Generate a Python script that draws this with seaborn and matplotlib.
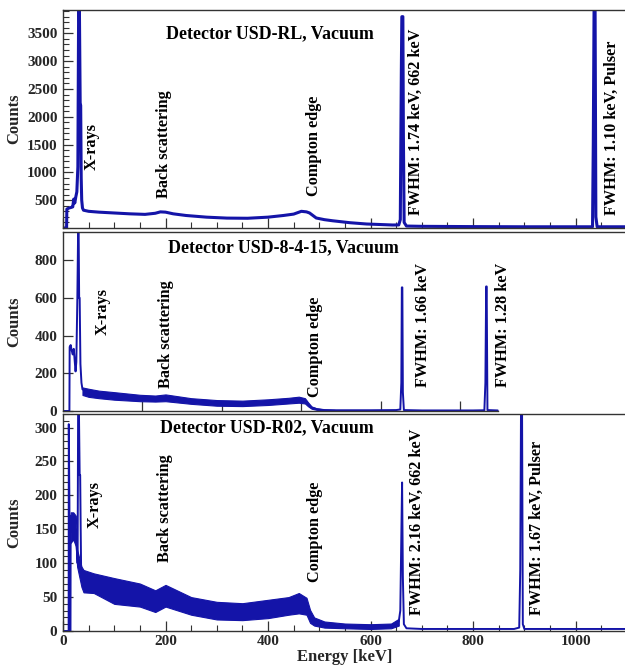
import matplotlib
matplotlib.use('Agg')
import matplotlib.pyplot as plt
from matplotlib.ticker import MultipleLocator, FixedLocator, NullFormatter
import seaborn as sns

# Detector USD-RL (top)
rl_energy = [0, 7, 7.5, 12, 16, 19, 21, 23, 25, 27, 29, 30.5, 32, 33.5, 34.5, 35.5, 36.5, 38, 40, 50,
             70, 100, 130, 160, 180, 190, 200, 215, 240, 280, 320, 360, 400, 430, 450, 465, 475, 481, 494, 510,
             526, 560, 592, 643, 655, 658, 660, 661, 663, 664, 665.5, 670, 700, 800, 900, 1000, 1033, 1034.5, 1036, 1038,
             1039.5, 1042, 1110]
rl_counts = [0, 0, 340, 360, 370, 380, 520, 450, 560, 650, 1100, 3950, 3950, 2250, 2200, 900, 500, 360, 320, 300,
             285, 270, 255, 245, 265, 290, 285, 255, 225, 195, 178, 175, 195, 225, 250, 300, 290, 270, 180, 150,
             130, 95, 72, 54, 55, 150, 2800, 3800, 3800, 1700, 100, 35, 30, 25, 22, 22, 22, 1550, 3950, 3950,
             200, 22, 22]

# Detector USD-8-4-15 (middle)
d8_energy = [0, 12.5, 13, 15, 17, 19, 21, 23, 24.5, 26, 28, 29.5, 30.5, 31.5, 32.5, 34, 36, 38, 50, 100,
             150, 200, 250, 300, 350, 400, 440, 460, 472, 478, 485, 495, 510, 530, 600, 650, 658, 660, 661, 662,
             663, 665, 700, 800, 822, 824, 825.5, 826.5, 828, 848]
d8_counts = [0, 0, 340, 350, 320, 300, 330, 260, 210, 260, 600, 960, 960, 600, 600, 250, 150, 115, 100, 82,
             70, 68, 50, 42, 40, 48, 55, 60, 55, 35, 18, 10, 5, 4, 4, 5, 8, 150, 656, 656,
             100, 5, 3, 3, 4, 150, 661, 661, 5, 3]
d8_band_energy = [38, 50, 70, 100, 150, 180, 200, 250, 300, 350, 400, 440, 460, 472, 478, 485, 495, 510, 530]
d8_band_low = [85, 75, 68, 60, 52, 50, 52, 38, 28, 26, 32, 40, 44, 40, 25, 12, 6, 3, 2]
d8_band_high = [125, 118, 108, 100, 86, 82, 88, 68, 58, 55, 62, 70, 76, 68, 46, 24, 14, 8, 6]

# Detector USD-R02 (bottom)
r02_energy = [0, 11, 11.3, 12.5, 13.5, 14.6, 15, 17, 19, 21, 23, 25, 27, 28.5, 29.5, 31, 32.5, 33.5, 34.5, 35.5,
              38, 40, 60, 100, 150, 180, 200, 250, 300, 350, 400, 440, 460, 475, 482, 490, 510, 550, 600, 640,
              655, 658, 660, 661.5, 663, 665, 670, 700, 800, 880, 890, 892, 893.5, 895.5, 897, 900, 1000, 1110]
r02_counts = [0, 0, 305, 190, 0, 0, 170, 150, 145, 160, 140, 150, 120, 100, 330, 330, 230, 230, 150, 80,
              75, 72, 70, 58, 52, 44, 50, 37, 30, 28, 32, 37, 41, 36, 22, 14, 10, 8, 7, 8,
              14, 30, 140, 219, 80, 10, 4, 3, 3, 3, 5, 90, 330, 330, 10, 3, 3, 3]
r02_band_energy = [15, 20, 25, 27.5, 36, 40, 60, 100, 150, 180, 200, 250, 300, 350, 400, 440, 460, 475, 482, 490,
                   510, 550, 600, 640, 655]
r02_band_low = [130, 135, 125, 95, 65, 57, 56, 40, 36, 28, 36, 24, 17, 16, 19, 24, 26, 24, 12, 8, 5, 4, 3, 4, 8]
r02_band_high = [175, 175, 170, 120, 95, 90, 85, 78, 70, 60, 68, 50, 43, 41, 46, 50, 56, 49, 31, 20, 14, 11, 10, 11, 18]

titles = ['Detector USD-RL, Vacuum', 'Detector USD-8-4-15, Vacuum', 'Detector USD-R02, Vacuum']
rl_notes = ['X-rays', 'Back scattering', 'Compton edge', 'FWHM: 1.74 keV, 662 keV', 'FWHM: 1.10 keV, Pulser']
d8_notes = ['X-rays', 'Back scattering', 'Compton edge', 'FWHM: 1.66 keV', 'FWHM: 1.28 keV']
r02_notes = ['X-rays', 'Back scattering', 'Compton edge', 'FWHM: 2.16 keV, 662 keV', 'FWHM: 1.67 keV, Pulser']

sns.set_theme(style='ticks')
plt.rcParams['font.family'] = ['Liberation Serif', 'DejaVu Serif']
plt.rcParams['font.weight'] = 'bold'

BLUE = '#1414a8'
W, H = 625, 668
fig = plt.figure(figsize=(W / 100, H / 100), dpi=100)


def px_axes(left, top, bottom, right=632):
    return fig.add_axes([left / W, (H - bottom) / H, (right - left) / W, (bottom - top) / H])


ax_top = px_axes(63, 10, 228)
ax_mid = px_axes(63, 232, 411)
ax_bot = px_axes(63, 414, 631)

sns.lineplot(x=rl_energy, y=rl_counts, ax=ax_top, color=BLUE, linewidth=2.2, estimator=None, sort=False)
sns.lineplot(x=d8_energy, y=d8_counts, ax=ax_mid, color=BLUE, linewidth=1.4, estimator=None, sort=False)
ax_mid.fill_between(d8_band_energy, d8_band_low, d8_band_high, color=BLUE, linewidth=0.8)
sns.lineplot(x=r02_energy, y=r02_counts, ax=ax_bot, color=BLUE, linewidth=1.4, estimator=None, sort=False)
ax_bot.fill_between(r02_band_energy, r02_band_low, r02_band_high, color=BLUE, linewidth=0.8)

ax_top.set_ylim(0, 3920)
ax_mid.set_ylim(0, 950)
ax_bot.set_ylim(0, 320)
for ax in (ax_top, ax_mid, ax_bot):
    ax.set_xlim(0, 1110)
    for s in ax.spines.values():
        s.set_color('#333333')
        s.set_linewidth(1.0)
    ax.tick_params(direction='in', which='major', length=7, width=0.9, color='#333333',
                   labelsize=11, pad=4)
    ax.tick_params(direction='in', which='minor', length=4, width=0.8, color='#333333')
    ax.set_ylabel('Counts', fontsize=12, fontweight='bold')
    ax.yaxis.set_label_coords(-0.072, 0.5)
    ax.set_xlabel('')

# top panel ticks
ax_top.yaxis.set_major_locator(FixedLocator([500, 1000, 1500, 2000, 2500, 3000, 3500]))
ax_top.yaxis.set_minor_locator(MultipleLocator(100))
ax_top.xaxis.set_major_locator(MultipleLocator(200))
ax_top.xaxis.set_minor_locator(MultipleLocator(50))
ax_top.xaxis.set_major_formatter(NullFormatter())

# middle panel ticks
ax_mid.yaxis.set_major_locator(MultipleLocator(200))
ax_mid.xaxis.set_major_locator(FixedLocator([155, 310, 465, 620, 775]))
ax_mid.xaxis.set_major_formatter(NullFormatter())
ax_mid.spines['bottom'].set_bounds(0, 848)

# bottom panel ticks
ax_bot.yaxis.set_major_locator(MultipleLocator(50))
ax_bot.yaxis.set_minor_locator(MultipleLocator(10))
ax_bot.xaxis.set_major_locator(MultipleLocator(200))
ax_bot.xaxis.set_minor_locator(MultipleLocator(50))
ax_bot.tick_params(axis='x', pad=3)
ax_bot.set_xlabel('Energy [keV]', fontsize=12, fontweight='bold')
ax_bot.xaxis.set_label_coords(0.495, -0.085)

for ax in (ax_top, ax_mid, ax_bot):
    for lab in ax.get_yticklabels() + ax.get_xticklabels():
        lab.set_fontweight('bold')


def annotate(title, title_xy, notes, note_xy):
    # positions in figure pixels from the top-left corner
    fig.text(title_xy[0] / W, 1 - title_xy[1] / H, title, ha='center', va='center',
             fontsize=12.9, fontweight='bold', color='black')
    for txt, (x, y) in zip(notes, note_xy):
        fig.text(x / W, 1 - y / H, txt, rotation=90, ha='center', va='bottom',
                 fontsize=11.7, fontweight='bold', color='black')


annotate(titles[0], (270, 34), rl_notes,
         [(92, 170), (164, 198), (314, 196), (416, 215), (612, 215)])
annotate(titles[1], (283, 248), d8_notes,
         [(103, 335), (166, 388), (315, 397), (423, 387), (503, 387)])
annotate(titles[2], (267, 428), r02_notes,
         [(95, 528), (165, 562), (315, 582), (417, 615), (537, 615)])

fig.savefig('out.png', dpi=100)
plt.close(fig)
